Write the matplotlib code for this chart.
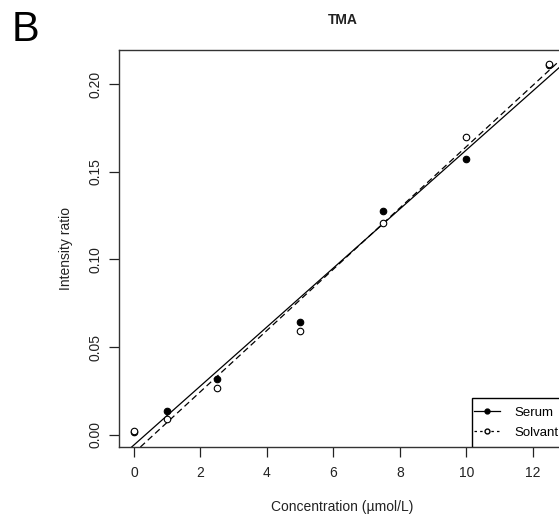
import matplotlib
matplotlib.use("Agg")
import matplotlib.pyplot as plt
import matplotlib.patches as patches
import numpy as np
from matplotlib.lines import Line2D

plt.rcParams['font.family'] = ['Liberation Sans', 'DejaVu Sans']

conc = [0, 1, 2.5, 5, 7.5, 10, 12.5]
serum = [0.0018, 0.0137, 0.0320, 0.0645, 0.1275, 0.1570, 0.2106]
solvant = [0.0025, 0.0093, 0.0267, 0.0594, 0.1207, 0.1700, 0.2115]

fig = plt.figure(figsize=(5.59, 5.19), dpi=100)
ax = fig.add_axes([0.2129, 0.1387, 0.7996, 0.765])

ax.scatter(conc, serum, s=22, facecolor='black', edgecolor='black', linewidth=0.8, zorder=3)
ax.scatter(conc, solvant, s=22, facecolor='white', edgecolor='black', linewidth=0.8, zorder=3)

# regression lines
b1, a1 = np.polyfit(conc, serum, 1)
b2, a2 = np.polyfit(conc, solvant, 1)
ax.axline((0, a1), slope=b1, color='black', lw=0.9)
ax.axline((0, a2), slope=b2, color='black', lw=0.9, ls=(0, (5, 3)))

ax.set_xlim(-0.45, 13.0)
ax.set_ylim(-0.0069, 0.2194)
ax.set_xticks([0, 2, 4, 6, 8, 10, 12])
ax.set_yticks([0.0, 0.05, 0.10, 0.15, 0.20])
ax.set_yticklabels(['0.00', '0.05', '0.10', '0.15', '0.20'], rotation=90, va='center')
ax.tick_params(direction='out', length=7, width=0.9, labelsize=10, colors='#222222', pad=7)
ax.tick_params(axis='y', pad=5)
for s in ax.spines.values():
    s.set_linewidth(1.0)
    s.set_color('#333333')

ax.set_xlabel('Concentration (µmol/L)', fontsize=10, color='#222222', labelpad=14)
ax.set_ylabel('Intensity ratio', fontsize=10, color='#222222', labelpad=11)
ax.set_title('TMA', fontsize=10, fontweight='bold', color='#222222', pad=19)

# legend box (R style, sits in the bottom-right corner)
box = patches.Rectangle((0.79, 0), 0.3, 0.1234, transform=ax.transAxes,
                        facecolor='white', edgecolor='black', lw=1.0, zorder=4)
ax.add_patch(box)
handles = [
    Line2D([], [], color='black', lw=0.9, marker='o', markersize=3.5, markerfacecolor='black'),
    Line2D([], [], color='black', lw=0.9, ls=(0, (2, 2.5)), marker='o', markersize=3.5, markerfacecolor='white'),
]
leg = ax.legend(handles, ['Serum', 'Solvant'], loc='center left', bbox_to_anchor=(0.794, 0.0617),
                borderaxespad=0, frameon=False, fontsize=9.5,
                handlelength=1.95, handletextpad=1.1, labelspacing=0.6, borderpad=0)
leg.set_zorder(5)

fig.text(0.02, 0.943, 'B', fontsize=30, va='center', ha='left')

fig.savefig('out.png', dpi=100)
